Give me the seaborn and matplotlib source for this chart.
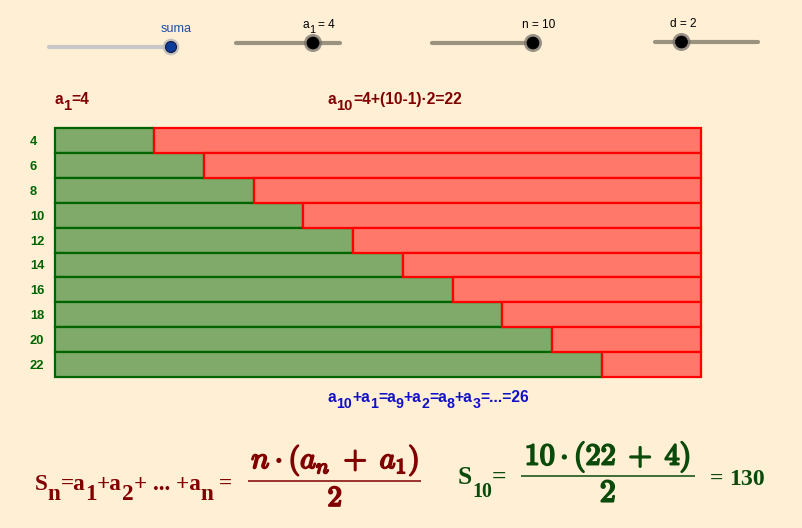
import numpy as np
import pandas as pd
import matplotlib
matplotlib.use("Agg")
import matplotlib.pyplot as plt
import matplotlib.patheffects as pe
from matplotlib.patches import Circle
import seaborn as sns

# ---------------- data ----------------
terms = [4, 6, 8, 10, 12, 14, 16, 18, 20, 22]
labels = ["4", "6", "8", "10", "12", "14", "16", "18", "20", "22"]
pair_sums = [26, 26, 26, 26, 26, 26, 26, 26, 26, 26]
remainder = [s - t for s, t in zip(pair_sums, terms)]
a1 = 4
n_terms = 10
d = 2
a_n = 22
s_total = 130

BG = "#FFEFD5"
GREEN_FACE = "#80AA6A"
GREEN_EDGE = "#006400"
RED_FACE = "#FF786A"
RED_EDGE = "#FF0000"
DARKRED = "#800000"
FGREEN = "#0A4A0A"
BLUE = "#1010C8"

sns.set_theme(style="white")
plt.rcParams["font.family"] = ["Liberation Sans", "DejaVu Sans"]

W, H = 803, 528
fig = plt.figure(figsize=(W / 100, H / 100), dpi=100, facecolor=BG)

# ---------------- bars ----------------
ax = fig.add_axes([55 / W, 1 - 377 / H, 646 / W, 249 / H])
ax.set_facecolor("none")
df = pd.DataFrame({"label": labels, "term": terms, "rest": remainder})
sns.barplot(data=df, x="term", y="label", orient="h", width=1.0, saturation=1,
            errorbar=None, color=GREEN_FACE, edgecolor=GREEN_EDGE,
            linewidth=1.6, clip_on=False, ax=ax)
sns.barplot(data=df, x="rest", y="label", orient="h", width=1.0, saturation=1,
            errorbar=None, color=RED_FACE, edgecolor=RED_EDGE,
            linewidth=1.6, clip_on=False, left=terms, ax=ax)
ax.set_xlim(0, pair_sums[0])
ax.set_ylim(len(labels) - 0.5, -0.5)
ax.set_xticks([])
ax.set_xlabel("")
ax.set_ylabel("")
for sp in ax.spines.values():
    sp.set_visible(False)
ax.tick_params(axis="y", length=0, pad=18)
for lbl in ax.get_yticklabels():
    lbl.set_horizontalalignment("left")
    lbl.set_color(GREEN_EDGE)
    lbl.set_fontweight("bold")
    lbl.set_fontsize(9.3)
    lbl.set_family("Liberation Sans")

# ---------------- overlay in pixel coordinates ----------------
ax0 = fig.add_axes([0, 0, 1, 1])
ax0.set_xlim(0, W)
ax0.set_ylim(H, 0)
ax0.axis("off")
ax0.patch.set_alpha(0)
renderer = fig.canvas.get_renderer()
PX = 100 / 72.0


def layout(parts, size, family, weight, sub_scale):
    arts, xx = [], 0.0
    for p in parts:
        if isinstance(p, (int, float)):
            xx += p * size * PX
            continue
        txt, sub = p
        fs = size * (sub_scale if sub else 1.0)
        t = ax0.text(0, 0, txt, fontsize=fs, family=family, weight=weight,
                     ha="left", va="baseline")
        w = t.get_window_extent(renderer).width
        arts.append((t, xx, sub))
        xx += w
    return arts, xx


def fit(parts, family, weight, sub_scale, target):
    arts, w = layout(parts, 10, family, weight, sub_scale)
    for t, _, _ in arts:
        t.remove()
    return 10 * target / w


def rich(x, y, parts, size, color, family="Liberation Sans", weight="bold",
         sub_scale=0.95, drop=0.36, ha="left", effects=None):
    arts, w = layout(parts, size, family, weight, sub_scale)
    x0 = x - w / 2 if ha == "center" else x
    for t, off, sub in arts:
        t.set_position((x0 + off, y + (drop * size * PX if sub else 0)))
        t.set_color(color)
        if effects:
            t.set_path_effects(effects)


def fit_math(s, target):
    t = ax0.text(0, 0, s, fontsize=10, math_fontfamily="cm")
    w = t.get_window_extent(renderer).width
    t.remove()
    return 10 * target / w


# ---------------- sliders ----------------
ax0.plot([49, 170], [47, 47], color="#C8C8C8", lw=3, solid_capstyle="round", zorder=2)
ax0.add_patch(Circle((171, 47), 8.3, facecolor="#BDBDBD", edgecolor="none", alpha=0.9, zorder=3))
ax0.add_patch(Circle((171, 47), 5.5, facecolor="#0B3B9B", edgecolor="#1A1A40", lw=0.8, zorder=4))
rich(176.5, 32, [("suma", 0)], 9.1, "#2050A8", weight="normal", ha="center")

sliders = [((236, 340, 43), 313, [("a", 0), ("1", 1), 0.25, (f"= {a1}", 0)], (318.5, 28)),
           ((432, 536, 43), 533, [(f"n = {n_terms}", 0)], (539, 27.5)),
           ((655, 758, 42), 681.5, [(f"d = {d}", 0)], (683.7, 27))]
for (x1, x2, yy), kx, parts, (lx, ly) in sliders:
    ax0.plot([x1, x2], [yy, yy], color="#9B937F", lw=3, solid_capstyle="round", zorder=2)
    ax0.add_patch(Circle((kx, yy), 9, facecolor="#77726A", edgecolor="none", alpha=0.75, zorder=3))
    ax0.add_patch(Circle((kx, yy), 6, facecolor="black", edgecolor="black", lw=0.5, zorder=4))
    rich(lx, ly, parts, 8.6, "black", weight="normal", ha="center", drop=0.4, sub_scale=0.9)

# ---------------- top labels ----------------
top_mid = [("a", 0), (str(n_terms), 1), (f"={a1}+({n_terms}-1)·{d}={a_n}", 0)]
sz_top = fit(top_mid, "Liberation Sans", "bold", 0.95, 134.5)
rich(55, 104, [("a", 0), ("1", 1), (f"={a1}", 0)], sz_top, DARKRED)
rich(328, 104, top_mid, sz_top, DARKRED)

# ---------------- blue pair-sum text ----------------
blue_parts = [("a", 0), ("10", 1), ("+a", 0), ("1", 1), ("=a", 0), ("9", 1), ("+a", 0),
              ("2", 1), ("=a", 0), ("8", 1), ("+a", 0), ("3", 1), (f"=...={pair_sums[0]}", 0)]
sz_blue = fit(blue_parts, "Liberation Sans", "bold", 0.9, 202)
rich(328, 401.5, blue_parts, sz_blue, BLUE, sub_scale=0.9, drop=0.42)

# ---------------- bottom formulas ----------------
left_parts = [("S", 0), ("n", 1), ("=a", 0), ("1", 1), ("+a", 0), ("2", 1),
              ("+ ... +a", 0), ("n", 1), 0.25, ("=", 0)]
sz_left = fit(left_parts, "Liberation Serif", "bold", 1.0, 198)
rich(35, 489.5, left_parts, sz_left, DARKRED, family="Liberation Serif",
     sub_scale=1.0, drop=0.45)

num_left = r"$n\cdot(a_n\;+\;a_1)$"
szn = fit_math(num_left, 170)
ax0.text(335, 468, num_left, fontsize=szn, math_fontfamily="cm", color=DARKRED,
         ha="center", va="baseline",
         path_effects=[pe.withStroke(linewidth=1.3, foreground=DARKRED)])
ax0.plot([248, 421.5], [480.7, 480.7], color=DARKRED, lw=1.1, solid_capstyle="butt")
ax0.text(335, 506, r"$\mathbf{2}$", fontsize=szn * 0.95, math_fontfamily="cm",
         color=DARKRED, ha="center", va="baseline",
         path_effects=[pe.withStroke(linewidth=1.4, foreground=DARKRED)])

s10_parts = [("S", 0), (str(n_terms), 1), ("=", 0)]
sz_s10 = fit(s10_parts, "Liberation Serif", "bold", 0.78, 49)
rich(458, 484, s10_parts, sz_s10, FGREEN, family="Liberation Serif",
     sub_scale=0.78, drop=0.5)

num_right = r"$\mathbf{%d}\cdot(\mathbf{%d}\;+\;\mathbf{%d})$" % (n_terms, a_n, a1)
szr = fit_math(num_right, 168)
ax0.text(607.5, 464.5, num_right, fontsize=szr, math_fontfamily="cm", color=FGREEN,
         ha="center", va="baseline",
         path_effects=[pe.withStroke(linewidth=1.4, foreground=FGREEN)])
ax0.plot([521, 695], [475.7, 475.7], color=FGREEN, lw=1.1, solid_capstyle="butt")
ax0.text(608, 501.7, r"$\mathbf{2}$", fontsize=szr * 1.05, math_fontfamily="cm",
         color=FGREEN, ha="center", va="baseline",
         path_effects=[pe.withStroke(linewidth=1.4, foreground=FGREEN)])

res_parts = [("=", 0), 0.25, (str(s_total), 0)]
sz_res = fit(res_parts, "Liberation Serif", "bold", 1.0, 55)
rich(710, 485, res_parts, sz_res, FGREEN, family="Liberation Serif")

fig.savefig("out.png", dpi=100, facecolor=BG)
